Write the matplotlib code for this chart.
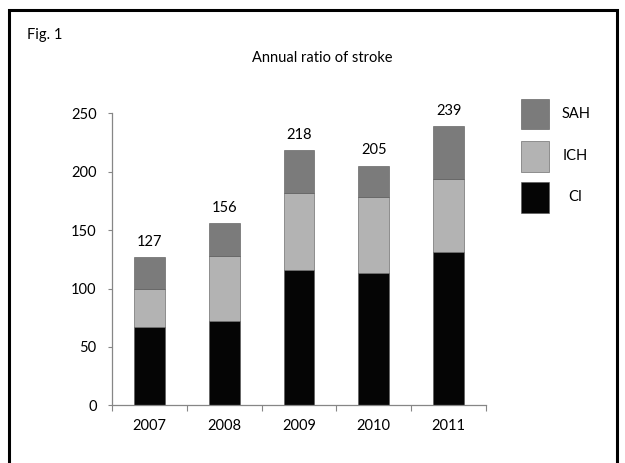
import matplotlib
matplotlib.use("Agg")
import matplotlib.pyplot as plt
from matplotlib.patches import Rectangle
import numpy as np

plt.rcParams['font.family'] = ['Lato', 'DejaVu Sans']

years = ["2007", "2008", "2009", "2010", "2011"]
ci = [67, 72, 116, 113, 131]
ich = [33, 56, 66, 65, 63]
sah = [27, 28, 36, 27, 45]
totals = [127, 156, 218, 205, 239]

series = [("CI", ci, "#050505"), ("ICH", ich, "#b3b3b3"), ("SAH", sah, "#7b7b7b")]

fig = plt.figure(figsize=(6.25, 4.63), dpi=100)
ax = fig.add_axes([0.1792, 0.1242, 0.5984, 0.6317])

x = np.arange(len(years))
bottom = np.zeros(len(years))
for name, vals, color in series:
    ax.bar(x, vals, width=0.41, bottom=bottom, color=color,
           edgecolor="#555555", linewidth=0.4, label=name)
    bottom += np.array(vals)

for xi, t in zip(x, totals):
    ax.text(xi, t + 13, str(t), ha="center", va="center", fontsize=10.5,
            clip_on=False)

ax.set_xlim(-0.5, len(years) - 0.5)
ax.set_ylim(0, 250)
ax.set_yticks(range(0, 251, 50))
ax.set_xticks(x)
ax.set_xticklabels(years)
ax.set_xticks(np.arange(-0.5, len(years)), minor=True)
ax.tick_params(axis="x", which="major", length=0, pad=10, labelsize=10.5)
ax.tick_params(axis="x", which="minor", length=4, width=0.8, color="#868686",
               direction="out")
ax.tick_params(axis="y", length=3, width=0.8, color="#868686", pad=8,
               labelsize=10.5)
for s in ("top", "right"):
    ax.spines[s].set_visible(False)
for s in ("left", "bottom"):
    ax.spines[s].set_color("#868686")
    ax.spines[s].set_linewidth(0.9)

# legend drawn as swatches with labels on the right, top entry first
legend_rows = [("SAH", "#7b7b7b", 0.754), ("ICH", "#b3b3b3", 0.662),
               ("CI", "#050505", 0.574)]
for name, color, yc in legend_rows:
    fig.patches.append(Rectangle((0.8336, yc - 0.033), 0.0442, 0.066,
                                 transform=fig.transFigure, facecolor=color,
                                 edgecolor="#555555", linewidth=0.4))
    fig.text(0.921, yc, name, ha="center", va="center", fontsize=10.5)

fig.text(0.5152, 0.875, "Annual ratio of stroke", ha="center", va="center",
         fontsize=10.5)
fig.text(0.043, 0.925, "Fig. 1", ha="left", va="center", fontsize=10.5)

# outer frame (open at the bottom edge of the image)
fig.patches.append(Rectangle((0.0144, -0.2), 0.9728, 1.1784,
                             transform=fig.transFigure, fill=False,
                             edgecolor="black", linewidth=2.2))

fig.savefig("out.png", dpi=100)
